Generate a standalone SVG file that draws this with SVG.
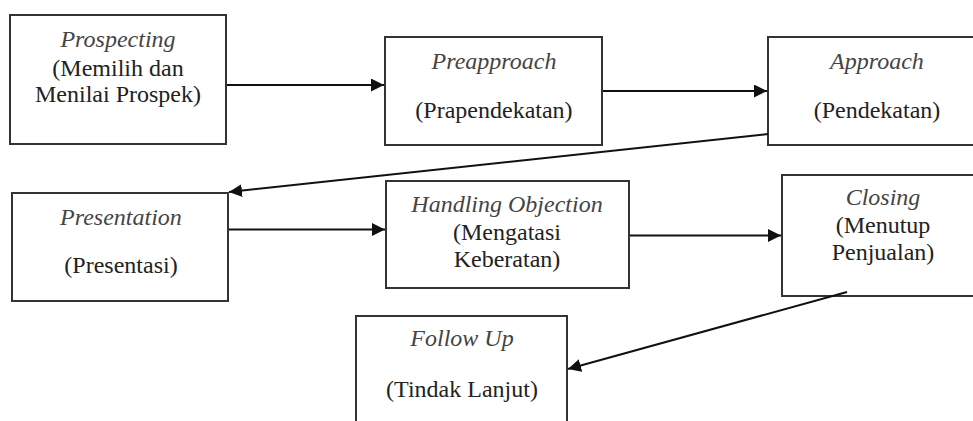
<svg xmlns="http://www.w3.org/2000/svg" width="973" height="421" viewBox="0 0 973 421">
<style>
.box{fill:#fff;stroke:#333;stroke-width:2}
.t{font-family:"Liberation Serif","Times New Roman",serif;font-size:24px;text-anchor:middle;fill:#222}
.i{font-style:italic;fill:#444}
.c{stroke:#111;stroke-width:2;fill:none}
</style>
<defs>
<marker id="ah" markerUnits="userSpaceOnUse" markerWidth="14" markerHeight="14" refX="13" refY="6.5" orient="auto">
<path d="M0,0 L13,6.5 L0,13 Z" fill="#111"/>
</marker>
</defs>
<rect width="973" height="421" fill="#fff"/>
<g id="prospecting">
<rect class="box" x="10" y="15" width="216" height="129"/>
<text class="t i" x="118" y="47">Prospecting</text>
<text class="t" x="118" y="76">(Memilih dan</text>
<text class="t" x="118" y="102">Menilai Prospek)</text>
</g>
<g id="preapproach">
<rect class="box" x="385" y="37" width="217" height="108"/>
<text class="t i" x="494" y="69">Preapproach</text>
<text class="t" x="494" y="118">(Prapendekatan)</text>
</g>
<g id="approach">
<rect class="box" x="768" y="37" width="220" height="108"/>
<text class="t i" x="877" y="69">Approach</text>
<text class="t" x="877" y="118">(Pendekatan)</text>
</g>
<g id="presentation">
<rect class="box" x="12" y="193" width="216" height="108"/>
<text class="t i" x="121" y="225">Presentation</text>
<text class="t" x="121" y="273">(Presentasi)</text>
</g>
<g id="handling">
<rect class="box" x="386" y="181" width="243" height="107"/>
<text class="t i" x="507" y="212">Handling Objection</text>
<text class="t" x="507" y="240">(Mengatasi</text>
<text class="t" x="507" y="267">Keberatan)</text>
</g>
<g id="closing">
<rect class="box" x="782" y="175" width="210" height="121"/>
<text class="t i" x="883" y="205">Closing</text>
<text class="t" x="883" y="233">(Menutup</text>
<text class="t" x="883" y="260">Penjualan)</text>
</g>
<g id="followup">
<rect class="box" x="356" y="316" width="211" height="120"/>
<text class="t i" x="462" y="346">Follow Up</text>
<text class="t" x="462" y="397">(Tindak Lanjut)</text>
</g>
<g id="connectors">
<line class="c" x1="227" y1="85" x2="384" y2="85" marker-end="url(#ah)"/>
<line class="c" x1="603" y1="91" x2="767" y2="91" marker-end="url(#ah)"/>
<line class="c" x1="768" y1="134" x2="229" y2="192" marker-end="url(#ah)"/>
<line class="c" x1="229" y1="229.5" x2="385" y2="229.5" marker-end="url(#ah)"/>
<line class="c" x1="630" y1="235.5" x2="781" y2="235.5" marker-end="url(#ah)"/>
<line class="c" x1="847" y1="292" x2="568" y2="369" marker-end="url(#ah)"/>
</g>
</svg>
